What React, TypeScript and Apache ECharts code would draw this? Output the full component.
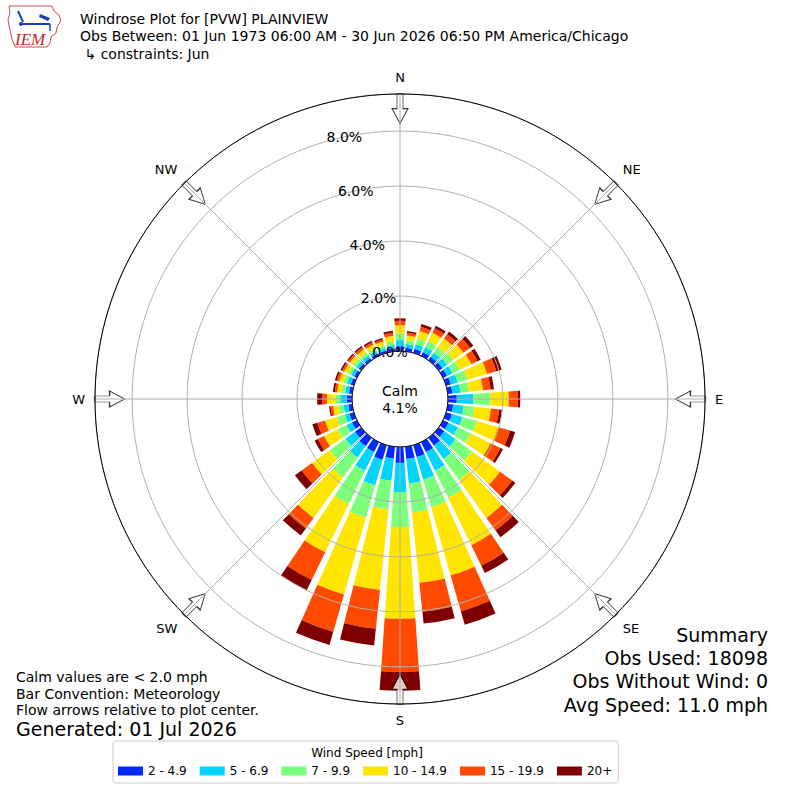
import * as echarts from "echarts";
import React, { useEffect, useRef } from "react";

// direction bins, degrees clockwise from north
const DIRECTIONS = [
	0, 10, 20, 30, 40, 50, 60, 70, 80, 90, 100, 110, 120, 130, 140, 150, 160, 170,
	180, 190, 200, 210, 220, 230, 240, 250, 260, 270, 280, 290, 300, 310, 320, 330, 340, 350,
];

const SPEED_BINS = ["2 - 4.9", "5 - 6.9", "7 - 9.9", "10 - 14.9", "15 - 19.9", "20+"];
const BIN_COLORS = ["#0028ff", "#00d4ff", "#7cff7a", "#ffe500", "#ff4a00", "#7f0000"];

// frequency (%) per direction, one array per speed bin
const BIN_2_5 = [
	0.18, 0.13, 0.15, 0.16, 0.15, 0.16, 0.16, 0.18, 0.17, 0.32, 0.2, 0.22, 0.22, 0.25, 0.35, 0.4, 0.45, 0.45,
	0.58, 0.44, 0.55, 0.4, 0.38, 0.28, 0.2, 0.17, 0.15, 0.19, 0.12, 0.12, 0.11, 0.11, 0.1, 0.1, 0.09, 0.11,
];
const BIN_5_7 = [
	0.22, 0.14, 0.18, 0.2, 0.2, 0.22, 0.22, 0.26, 0.3, 0.6, 0.38, 0.4, 0.38, 0.5, 0.6, 0.75, 0.85, 0.9,
	1.06, 0.8, 0.97, 0.76, 0.5, 0.43, 0.22, 0.17, 0.17, 0.24, 0.14, 0.14, 0.13, 0.12, 0.12, 0.11, 0.1, 0.12,
];
const BIN_7_10 = [
	0.24, 0.13, 0.2, 0.24, 0.24, 0.28, 0.3, 0.36, 0.32, 0.62, 0.4, 0.55, 0.52, 0.75, 0.95, 1.1, 1.06, 1.06,
	1.27, 1.05, 1.22, 1.34, 0.9, 0.71, 0.35, 0.3, 0.18, 0.18, 0.13, 0.13, 0.12, 0.12, 0.11, 0.11, 0.1, 0.13,
];
const BIN_10_15 = [
	0.3, 0.18, 0.3, 0.34, 0.38, 0.45, 0.46, 0.75, 0.5, 0.67, 0.6, 0.8, 0.8, 1.25, 1.7, 1.92, 2.57, 2.57,
	3.34, 2.95, 2.91, 1.96, 1.82, 0.79, 0.56, 0.45, 0.2, 0.3, 0.16, 0.17, 0.16, 0.16, 0.16, 0.14, 0.14, 0.2,
];
const BIN_15_20 = [
	0.16, 0.1, 0.16, 0.18, 0.2, 0.3, 0.25, 0.35, 0.28, 0.34, 0.3, 0.45, 0.4, 0.55, 0.56, 0.83, 1.36, 1.06,
	1.93, 1.42, 1.41, 1.12, 0.48, 0.47, 0.25, 0.29, 0.1, 0.18, 0.09, 0.09, 0.08, 0.08, 0.09, 0.09, 0.08, 0.12,
];
const BIN_20_UP = [
	0.09, 0.06, 0.1, 0.1, 0.12, 0.14, 0.13, 0.2, 0.12, 0.08, 0.1, 0.19, 0.1, 0.14, 0.31, 0.3, 0.51, 0.43,
	0.69, 0.61, 0.5, 0.42, 0.31, 0.3, 0.13, 0.19, 0.05, 0.18, 0.07, 0.07, 0.06, 0.05, 0.06, 0.06, 0.05, 0.07,
];
const BIN_VALUES = [BIN_2_5, BIN_5_7, BIN_7_10, BIN_10_15, BIN_15_20, BIN_20_UP];

const COMPASS = ["N", "NE", "E", "SE", "S", "SW", "W", "NW"];
const COMPASS_ANGLES = [0, 45, 90, 135, 180, 225, 270, 315];

const R_MAX = 9.35; // radial extent of the plot, %
const ARROW_R = 8.82; // where the flow arrows sit, %
const CALM = "4.1%";

const TITLE_LINES = [
	"Windrose Plot for [PVW] PLAINVIEW",
	"Obs Between: 01 Jun 1973 06:00 AM - 30 Jun 2026 06:50 PM America/Chicago",
	" \u21b3 constraints: Jun",
];
const NOTE_LINES = ["Calm values are < 2.0 mph", "Bar Convention: Meteorology", "Flow arrows relative to plot center."];
const GENERATED = "Generated: 01 Jul 2026";
const SUMMARY_LINES = ["Summary", "Obs Used: 18098", "Obs Without Wind: 0", "Avg Speed: 11.0 mph"];

const FONT = "DejaVu Sans";
const CENTER = [400, 399];
const RADIUS = [48, 305];

export default function App() {
	const $chart = useRef<HTMLDivElement>(null);

	useEffect(() => {
		const chart = echarts.init($chart.current, null, { renderer: "svg" });

		const hidden = { axisLine: { show: false }, axisTick: { show: false }, axisLabel: { show: false }, splitLine: { show: false } };
		const txt = (size: number, extra: object = {}) => ({ fontFamily: FONT, fontSize: size, fill: "#000", ...extra });

		chart.setOption({
			animation: false,
			textStyle: { fontFamily: FONT, color: "#000" },
			polar: [
				{ center: CENTER, radius: RADIUS },
				{ center: CENTER, radius: RADIUS },
				{ center: CENTER, radius: RADIUS },
			],
			angleAxis: [
				{
					polarIndex: 0,
					type: "category",
					data: DIRECTIONS.map(String),
					startAngle: 95,
					clockwise: true,
					...hidden,
				},
				{
					// compass spokes + outer / calm circles, drawn over the bars
					polarIndex: 1,
					type: "value",
					min: 0,
					max: 360,
					interval: 45,
					startAngle: 90,
					clockwise: true,
					z: 7,
					axisLine: { show: true, lineStyle: { color: "#000", width: 1 } },
					axisTick: { show: false },
					axisLabel: {
						show: true,
						margin: 10,
						fontSize: 13,
						fontFamily: FONT,
						color: "#000",
						formatter: (v: number) => COMPASS[Math.round(v / 45) % 8],
					},
					splitLine: { show: true, lineStyle: { color: "#b0b0b0", width: 1 } },
				},
				{ polarIndex: 2, type: "value", min: 0, max: 360, startAngle: 102, ...hidden },
			],
			radiusAxis: [
				{ polarIndex: 0, type: "value", min: 0, max: R_MAX, ...hidden },
				{
					polarIndex: 1,
					type: "value",
					min: 0,
					max: R_MAX,
					interval: 2,
					z: 7,
					axisLine: { show: false },
					axisTick: { show: false },
					axisLabel: { show: false },
					splitLine: { show: true, lineStyle: { color: "#b0b0b0", width: 1 } },
				},
				{
					polarIndex: 2,
					type: "value",
					min: 0,
					max: R_MAX,
					interval: 2,
					z: 8,
					axisLine: { show: false },
					axisTick: { show: false },
					splitLine: { show: false },
					axisLabel: {
						show: true,
						margin: 0,
						align: "center",
						verticalAlign: "middle",
						fontSize: 14,
						fontFamily: FONT,
						color: "#000",
						formatter: (v: number) => (v > 8.5 ? "" : v.toFixed(1) + "%"),
					},
				},
			],
			legend: {
				left: 113,
				top: 741,
				orient: "horizontal",
				padding: [24, 6, 6, 5],
				itemGap: 13,
				itemWidth: 25,
				itemHeight: 9,
				icon: "rect",
				borderColor: "#cccccc",
				borderWidth: 1,
				borderRadius: 3,
				textStyle: { fontSize: 12, color: "#000", fontFamily: FONT },
				data: SPEED_BINS,
			},
			graphic: [
				{
					type: "text",
					x: CENTER[0],
					y: CENTER[1],
					z: 10,
					style: txt(14, { text: "Calm\n" + CALM, lineHeight: 17, align: "center", verticalAlign: "middle" }),
				},
				{
					type: "text",
					x: 367,
					y: 753,
					style: txt(12, { text: "Wind Speed [mph]", align: "center", verticalAlign: "middle" }),
				},
				{
					type: "text",
					x: 80,
					y: 10,
					style: txt(14, { text: TITLE_LINES.join("\n"), lineHeight: 17.5, verticalAlign: "top" }),
				},
				{
					type: "text",
					x: 16,
					y: 669,
					style: txt(14, { text: NOTE_LINES.join("\n"), lineHeight: 16.5, verticalAlign: "top" }),
				},
				{
					type: "text",
					x: 16,
					y: 729,
					style: txt(19, { text: GENERATED, verticalAlign: "middle" }),
				},
				{
					type: "text",
					x: 768,
					y: 623,
					style: txt(19, { text: SUMMARY_LINES.join("\n"), lineHeight: 23.3, align: "right", verticalAlign: "top" }),
				},
				// IEM logo
				{
					type: "polygon",
					shape: {
						points: [
							[9, 6], [52, 6], [54, 11], [59, 15], [61, 21], [57, 27], [56, 33], [51, 37], [50, 43], [47, 47],
							[15, 47], [12, 39], [10, 30], [8, 20], [10, 13],
						],
					},
					style: { fill: "none", stroke: "#c0504d", lineWidth: 1 },
				},
				{ type: "line", shape: { x1: 22, y1: 24, x2: 50, y2: 24 }, style: { stroke: "#1f3fbf", lineWidth: 2 } },
				{ type: "line", shape: { x1: 18, y1: 11, x2: 23, y2: 22 }, style: { stroke: "#1f3fbf", lineWidth: 2 } },
				{ type: "polygon", shape: { points: [[40, 14], [50, 18], [48, 21], [39, 17]] }, style: { fill: "#1f3fbf" } },
				{ type: "circle", shape: { cx: 21, cy: 24, r: 2 }, style: { fill: "#1f3fbf" } },
				{ type: "line", shape: { x1: 50, y1: 24, x2: 50, y2: 31 }, style: { stroke: "#1f3fbf", lineWidth: 1.5 } },
				{
					type: "text",
					x: 15,
					y: 39,
					style: {
						text: "IEM",
						fontFamily: "Liberation Serif",
						fontStyle: "italic",
						fontSize: 17,
						fill: "#c0242b",
						verticalAlign: "middle",
					},
				},
			],
			series: [
				...SPEED_BINS.map((name, i) => ({
					type: "bar",
					name,
					coordinateSystem: "polar",
					polarIndex: 0,
					stack: "wind",
					barCategoryGap: "20%",
					data: BIN_VALUES[i],
					itemStyle: { color: BIN_COLORS[i] },
				})),
				{
					type: "scatter",
					coordinateSystem: "polar",
					polarIndex: 1,
					silent: true,
					z: 6,
					symbol: "path://M5 0L11 0L11 15L16 15L8 30L0 15L5 15Z",
					symbolSize: [16, 30],
					itemStyle: { color: "#ffffff", borderColor: "#000", borderWidth: 1 },
					data: COMPASS_ANGLES.map((a) => ({ value: [ARROW_R, a], symbolRotate: -a })),
				},
			],
		});

		return () => {
			chart.dispose();
		};
	}, []);

	return <div ref={$chart} style={{ position: "absolute", left: 0, top: 0, width: 800, height: 800 }} />;
}
